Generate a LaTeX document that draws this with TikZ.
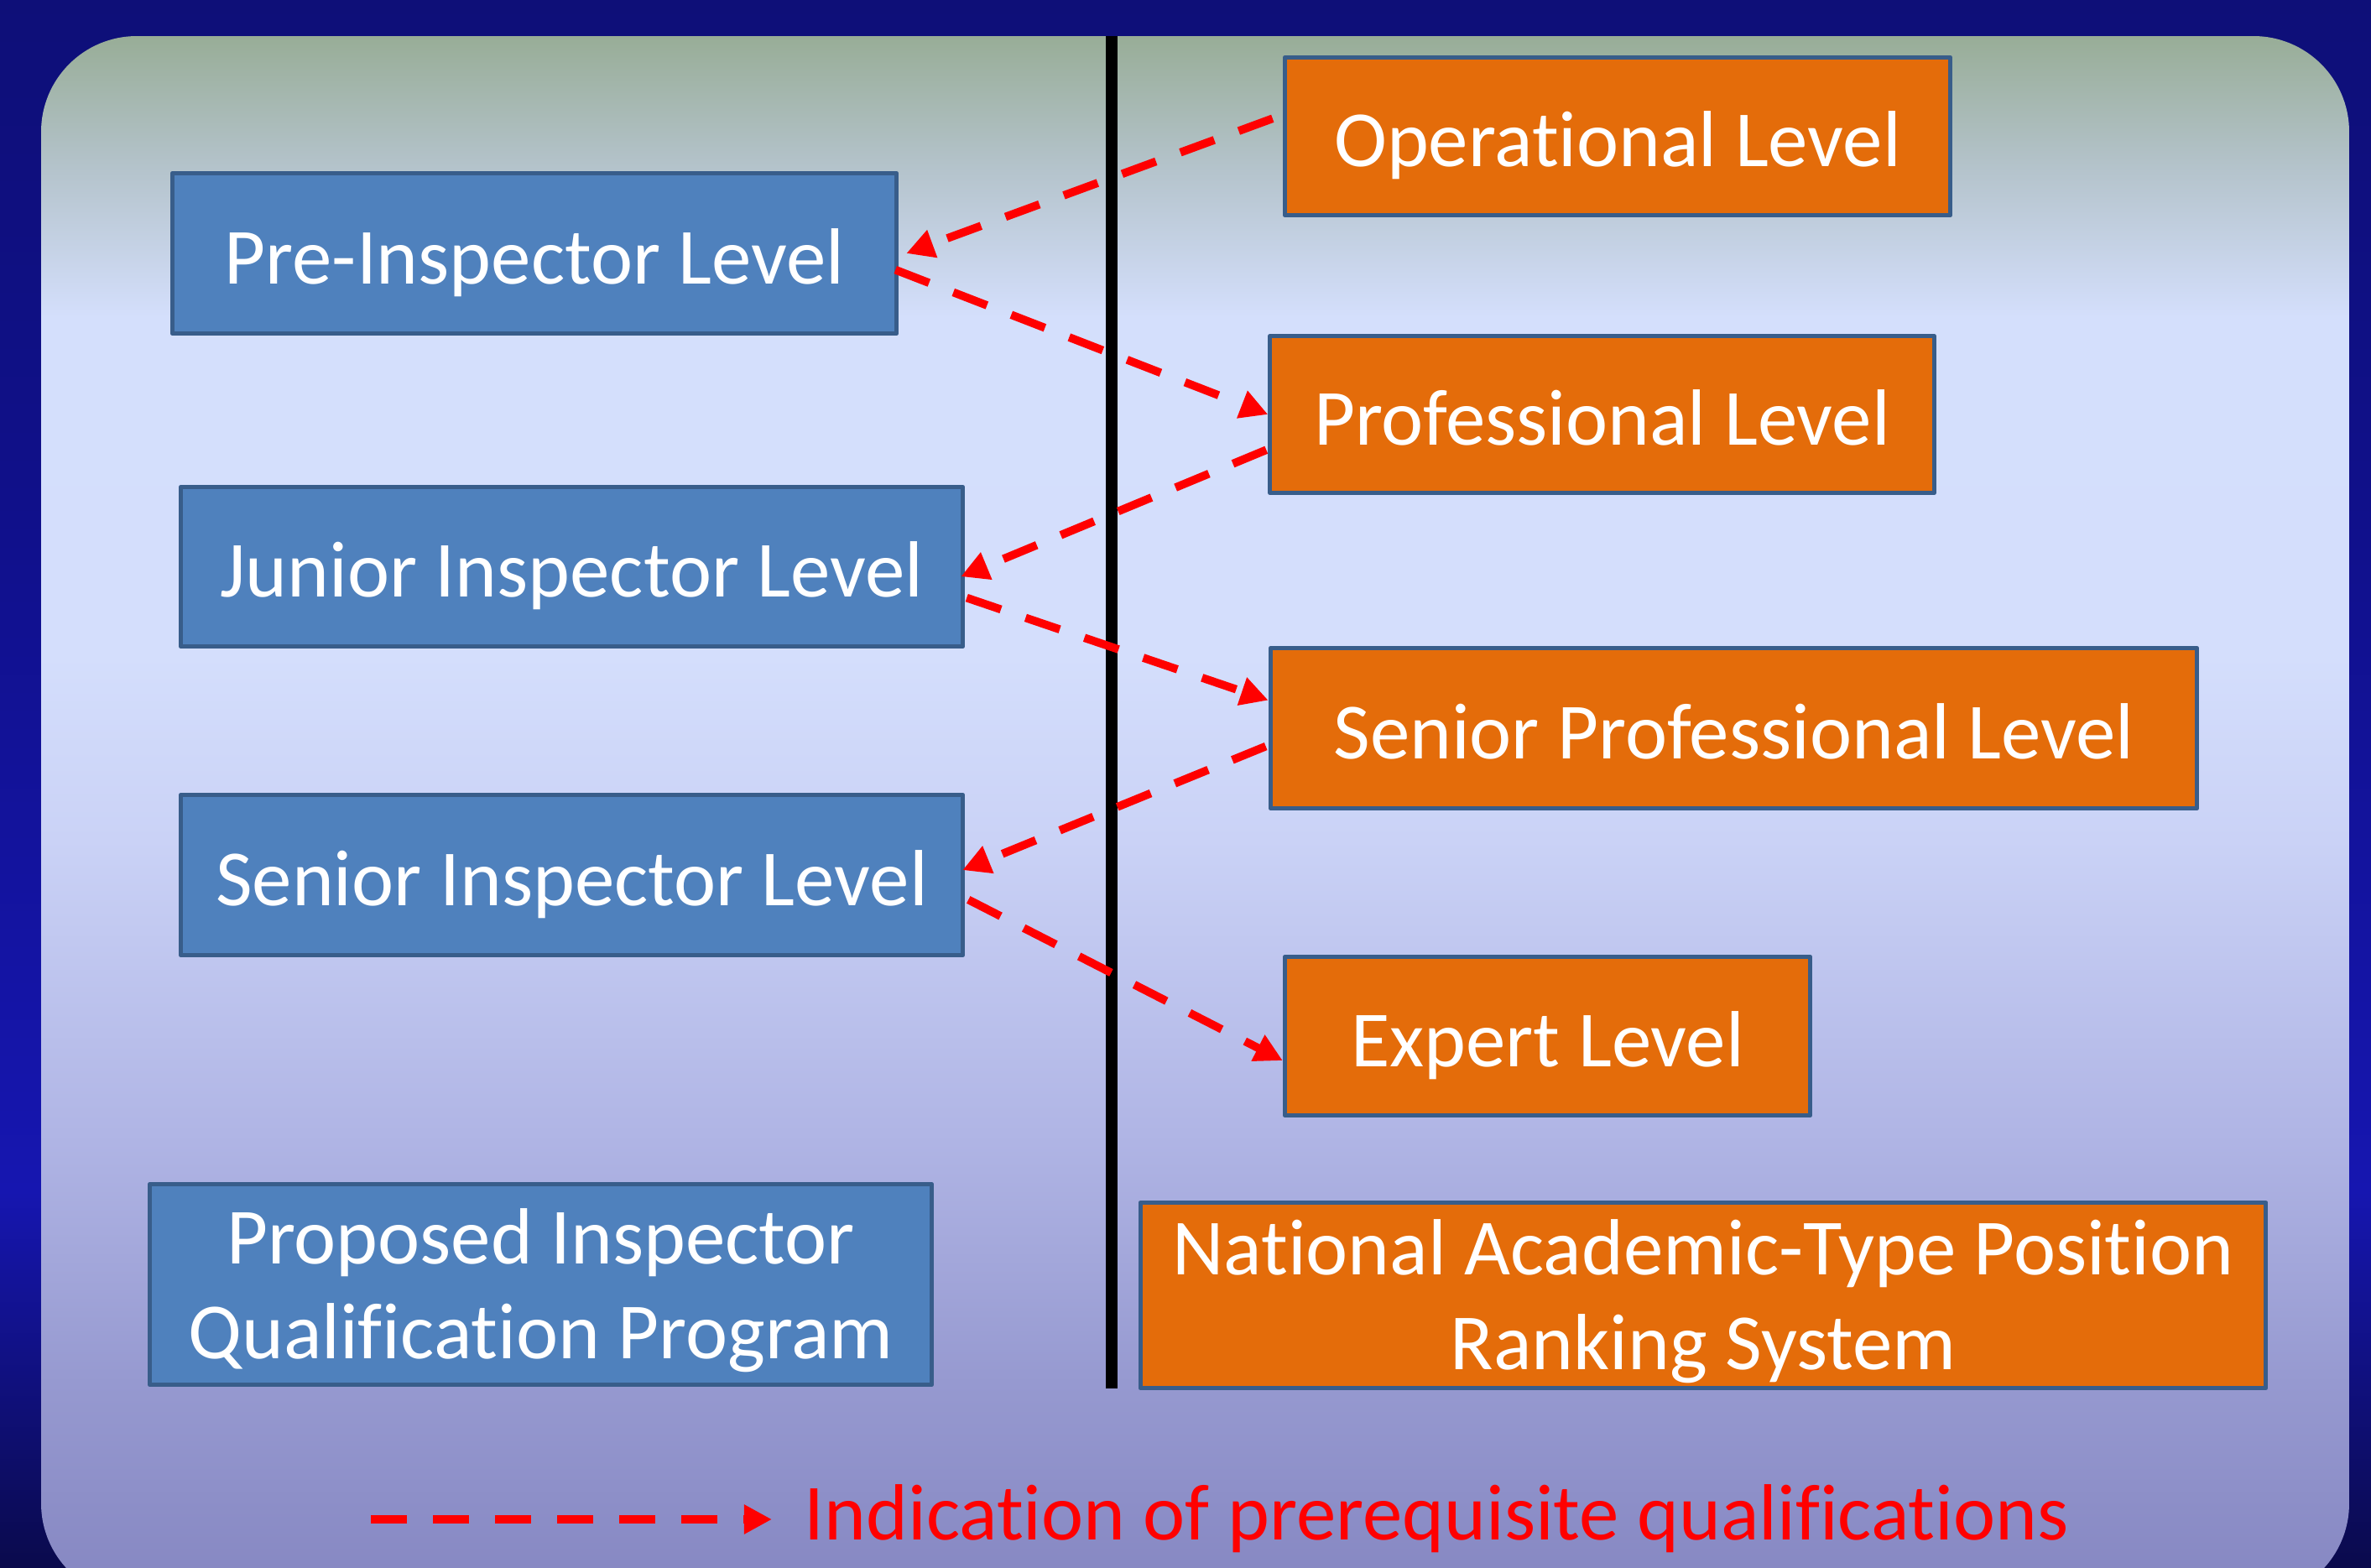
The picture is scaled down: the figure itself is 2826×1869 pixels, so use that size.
\documentclass[tikz,border=0pt]{standalone}
\usepackage{fontspec}
\setmainfont{Carlito}[Ligatures=NoCommon]
\usetikzlibrary{arrows.meta,calc}
\definecolor{otop}{HTML}{0E0F78}
\definecolor{otwo}{HTML}{10108A}
\definecolor{omid}{HTML}{1616B0}
\definecolor{obot}{HTML}{0A0A4C}
\definecolor{ia}{HTML}{98AD97}
\definecolor{ib}{HTML}{B4C3CB}
\definecolor{ic}{HTML}{D4DFFC}
\definecolor{id}{HTML}{D4DEFC}
\definecolor{ie}{HTML}{CAD2F6}
\definecolor{ig}{HTML}{B0B5E5}
\definecolor{ih}{HTML}{9699D0}
\definecolor{ii}{HTML}{8586C1}
\definecolor{boxblue}{HTML}{4F81BD}
\definecolor{boxorange}{HTML}{E46C0A}
\definecolor{bordc}{HTML}{385D8A}
\pgfdeclareverticalshading{outershade}{100bp}{color(0bp)=(obot); color(25bp)=(obot); color(37bp)=(omid); color(59bp)=(otwo); color(75bp)=(otop); color(100bp)=(otop)}
\pgfdeclareverticalshading{innershade}{100bp}{color(0bp)=(ii); color(25bp)=(ii); color(31.9bp)=(ih); color(39.9bp)=(ig); color(49.3bp)=(ie); color(55.2bp)=(id); color(66bp)=(ic); color(70.8bp)=(ib); color(75bp)=(ia); color(100bp)=(ia)}
\tikzset{
  lvl/.style={draw=bordc, line width=0.05cm, line join=round, rectangle, inner sep=0pt,
    text=white, font=\fontsize{27pt}{32.2pt}\selectfont, text height=25.9pt, text depth=5.4pt, align=center},
  bluebox/.style={lvl, fill=boxblue},
  orbox/.style={lvl, fill=boxorange},
  twoline/.style={text height=50.4pt, text depth=0pt},
  prereq/.style={draw=red, line width=0.097cm, dash pattern=on 0.43cm off 0.31cm,
    -{Triangle[length=0.33cm, width=0.33cm]}},
  legendtext/.style={text=red, font=\fontsize{27pt}{32.2pt}\selectfont, inner sep=0pt},
}
\begin{document}
\begin{tikzpicture}[x=0.01cm, y=-0.01cm]
\clip (0,0) rectangle (2826,1869);
\shade[shading=outershade] (0,0) rectangle (2826,1869);
\shade[shading=innershade, rounded corners=1.14cm] (49,43) rectangle (2800,1906);
% divider
\draw[line width=0.14cm] (1325,43) -- (1325,1655);
% left column
\node[bluebox, minimum width=8.63cm, minimum height=1.91cm] (pre) at (637,302) {Pre-Inspector Level};
\node[bluebox, minimum width=9.32cm, minimum height=1.90cm] (jun) at (681.5,675.5) {Junior Inspector Level};
\node[bluebox, minimum width=9.32cm, minimum height=1.91cm] (sen) at (681.5,1043) {Senior Inspector Level};
\node[bluebox, twoline, minimum width=9.32cm, minimum height=2.39cm] (prop) at (644.5,1531) {Proposed Inspector\\Qualification Program};
% right column
\node[orbox, minimum width=7.93cm, minimum height=1.88cm] (oper) at (1928,162.5) {Operational Level};
\node[orbox, minimum width=7.91cm, minimum height=1.87cm] (prof) at (1909.5,494) {Professional Level};
\node[orbox, minimum width=11.04cm, minimum height=1.91cm] (sprof) at (2066.5,868) {Senior Professional Level};
\node[orbox, minimum width=6.26cm, minimum height=1.89cm] (exp) at (1844.5,1235) {Expert Level};
\node[orbox, twoline, minimum width=13.41cm, minimum height=2.21cm] (nat) at (2030,1544) {National Academic-Type Position\\Ranking System};
% connectors
\draw[prereq] ($(oper.north west)!0.39!(oper.south west)+(-12,0)$) -- ($(pre.east)+(9,0)$);
\draw[prereq] ($(pre.north east)!0.6!(pre.south east)+(-4,0)$) -- (prof.west);
\draw[prereq] ($(prof.north west)!0.72!(prof.south west)+(-2,0)$) -- ($(jun.north east)!0.56!(jun.south east)+(-5,0)$);
\draw[prereq] ($(jun.north east)!0.69!(jun.south east)+(2,0)$) -- ($(sprof.north west)!0.33!(sprof.south west)$);
\draw[prereq] ($(sprof.north west)!0.61!(sprof.south west)+(-3,0)$) -- ($(sen.north east)!0.47!(sen.south east)+(-3,0)$);
\draw[prereq] ($(sen.north east)!0.65!(sen.south east)+(4,0)$) -- ($(exp.north west)!0.65!(exp.south west)$);
% legend
\coordinate (legs) at (442,1811);
\coordinate (lege) at (920,1811);
\node[legendtext, anchor=base west] (legt) at (958,1835) {Indication of prerequisite qualifications};
\draw[prereq] (legs) -- (lege);
\end{tikzpicture}
\end{document}
